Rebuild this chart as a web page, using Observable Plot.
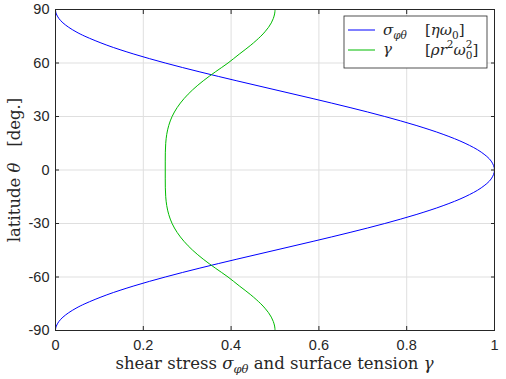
<!DOCTYPE html>
<html><head><meta charset="utf-8">
<script src="https://cdn.jsdelivr.net/npm/d3@7"></script>
<script src="https://cdn.jsdelivr.net/npm/@observablehq/plot@0.6"></script>
<style>
body{margin:0;background:#fff}
#chart svg{display:block}
</style>
</head><body><div id="chart"></div>
<script>
// latitude θ in degrees
const latitude = [-90,-89.5,-88.75,-87.5,-85,-82.5,-80,-77.5,-75,-70,-65,-60,-55,-50,-45,-40,-35,-30,-25,-20,-15,-10,-5,0,
  5,10,15,20,25,30,35,40,45,50,55,60,65,70,75,77.5,80,82.5,85,87.5,88.75,89.5,90];
// shear stress σφθ [ηω0]
const shearStress = [0,0.0001,0.0005,0.0019,0.0076,0.0170,0.0302,0.0468,0.0670,0.1170,0.1786,0.2500,0.3290,0.4132,0.5000,0.5868,0.6710,0.7500,0.8214,0.8830,0.9330,0.9698,0.9924,1,
  0.9924,0.9698,0.9330,0.8830,0.8214,0.7500,0.6710,0.5868,0.5000,0.4132,0.3290,0.2500,0.1786,0.1170,0.0670,0.0468,0.0302,0.0170,0.0076,0.0019,0.0005,0.0001,0];
// surface tension γ [ρr²ω0²]
const surfaceTension = [0.5,0.5,0.4998,0.4991,0.4962,0.4916,0.4852,0.4771,0.4676,0.4449,0.4187,0.3930,0.3640,0.3365,0.3125,0.2927,0.2771,0.2656,0.2580,0.2534,0.2511,0.2502,0.2500,0.25,
  0.2500,0.2502,0.2511,0.2534,0.2580,0.2656,0.2771,0.2927,0.3125,0.3365,0.3640,0.3930,0.4187,0.4449,0.4676,0.4771,0.4852,0.4916,0.4962,0.4991,0.4998,0.5,0.5];
const xTicks = [0,0.2,0.4,0.6,0.8,1];
const yTicks = [-90,-60,-30,0,30,60,90];

const sigmaRows = latitude.map((lat,i)=>({lat, v: shearStress[i]}));
const gammaRows = latitude.map((lat,i)=>({lat, v: surfaceTension[i]}));

const gridColor = "#dfdfdf";
const axisColor = "#262626";

const plot = Plot.plot({
  width: 506, height: 379,
  marginLeft: 55, marginRight: 12, marginTop: 9, marginBottom: 49,
  x: {domain:[0,1], ticks: xTicks},
  y: {domain:[-90,90], ticks: yTicks},
  style: {fontFamily: "'Liberation Sans', Arial, sans-serif", fontSize: "14.5px", color: axisColor, background: "#fff", overflow: "visible"},
  marks: [
    Plot.gridX(xTicks, {stroke: gridColor, strokeOpacity: 1}),
    Plot.gridY(yTicks, {stroke: gridColor, strokeOpacity: 1}),
    Plot.line(sigmaRows, {x: "v", y: "lat", curve: "catmull-rom", stroke: "#0000ff", strokeWidth: 1}),
    Plot.line(gammaRows, {x: "v", y: "lat", curve: "catmull-rom", stroke: "#00bb00", strokeWidth: 1}),
    Plot.frame({stroke: axisColor, strokeWidth: 1}),
    Plot.axisX(xTicks, {anchor: "bottom", tickSize: -4, tickFormat: () => "", label: null, stroke: axisColor}),
    Plot.axisX(xTicks, {anchor: "top", tickSize: -4, tickFormat: () => "", label: null, stroke: axisColor}),
    Plot.axisY(yTicks, {anchor: "left", tickSize: -4, tickFormat: () => "", label: null, stroke: axisColor}),
    Plot.axisY(yTicks, {anchor: "right", tickSize: -4, tickFormat: () => "", label: null, stroke: axisColor}),
    Plot.axisX(xTicks, {anchor: "bottom", tickSize: 0, tickPadding: 9.5, tickFormat: d => String(d), label: null, fill: axisColor}),
    Plot.axisY(yTicks, {anchor: "left", tickSize: 0, tickPadding: 6, tickFormat: d => String(d), label: null, fill: axisColor})
  ]
});
document.getElementById("chart").appendChild(plot);

const svg = d3.select(plot);
const serif = "'DejaVu Serif', serif";

// x-axis label
const xl = svg.append("text")
  .attr("x", 274.5).attr("y", 369)
  .attr("text-anchor", "middle")
  .style("font-family", serif).style("font-size", "16.5px").style("fill", axisColor);
xl.append("tspan").text("shear stress ");
xl.append("tspan").style("font-style", "italic").text("σ");
xl.append("tspan").style("font-style", "italic").style("font-size", "11.5px").attr("dy", 4).text("φθ");
xl.append("tspan").attr("dy", -4).text(" and surface tension ");
xl.append("tspan").style("font-style", "italic").text("γ");

// y-axis label
const yl = svg.append("text")
  .attr("transform", "translate(20,170) rotate(-90)")
  .attr("text-anchor", "middle")
  .style("font-family", serif).style("font-size", "16.5px").style("fill", axisColor)
  .style("white-space", "pre");
yl.append("tspan").text("latitude ");
yl.append("tspan").style("font-style", "italic").text("θ");
yl.append("tspan").text("   [deg.]");

// legend
const lg = svg.append("g");
lg.append("rect").attr("x", 344).attr("y", 16).attr("width", 143).attr("height", 52)
  .attr("fill", "#fff").attr("stroke", axisColor).attr("stroke-width", 0.8);
lg.append("line").attr("x1", 348).attr("x2", 375).attr("y1", 30).attr("y2", 30).attr("stroke", "#0000ff");
lg.append("line").attr("x1", 348).attr("x2", 375).attr("y1", 50).attr("y2", 50).attr("stroke", "#00bb00");
const lt = (x, y) => lg.append("text").attr("x", x).attr("y", y).attr("text-anchor", "start")
  .style("font-family", serif).style("font-size", "15px").style("fill", axisColor);
const t1 = lt(383, 35);
t1.append("tspan").style("font-style", "italic").text("σ");
t1.append("tspan").style("font-style", "italic").style("font-size", "10.5px").attr("dy", 4).text("φθ");
const u1 = lt(425, 35);
u1.append("tspan").text("[");
u1.append("tspan").style("font-style", "italic").text("ηω");
u1.append("tspan").style("font-size", "10.5px").attr("dy", 4).text("0");
u1.append("tspan").attr("dy", -4).text("]");
const t2 = lt(383, 54);
t2.append("tspan").style("font-style", "italic").text("γ");
const u2 = lt(425, 55);
u2.append("tspan").text("[");
u2.append("tspan").style("font-style", "italic").text("ρr");
u2.append("tspan").style("font-size", "10.5px").attr("dy", -7).text("2");
u2.append("tspan").style("font-style", "italic").attr("dy", 7).text("ω");
u2.append("tspan").style("font-size", "10.5px").attr("dy", 4).text("0");
u2.append("tspan").style("font-size", "10.5px").attr("dx", -6.7).attr("dy", -11).text("2");
u2.append("tspan").attr("dy", 7).text("]");
</script>
</body></html>
